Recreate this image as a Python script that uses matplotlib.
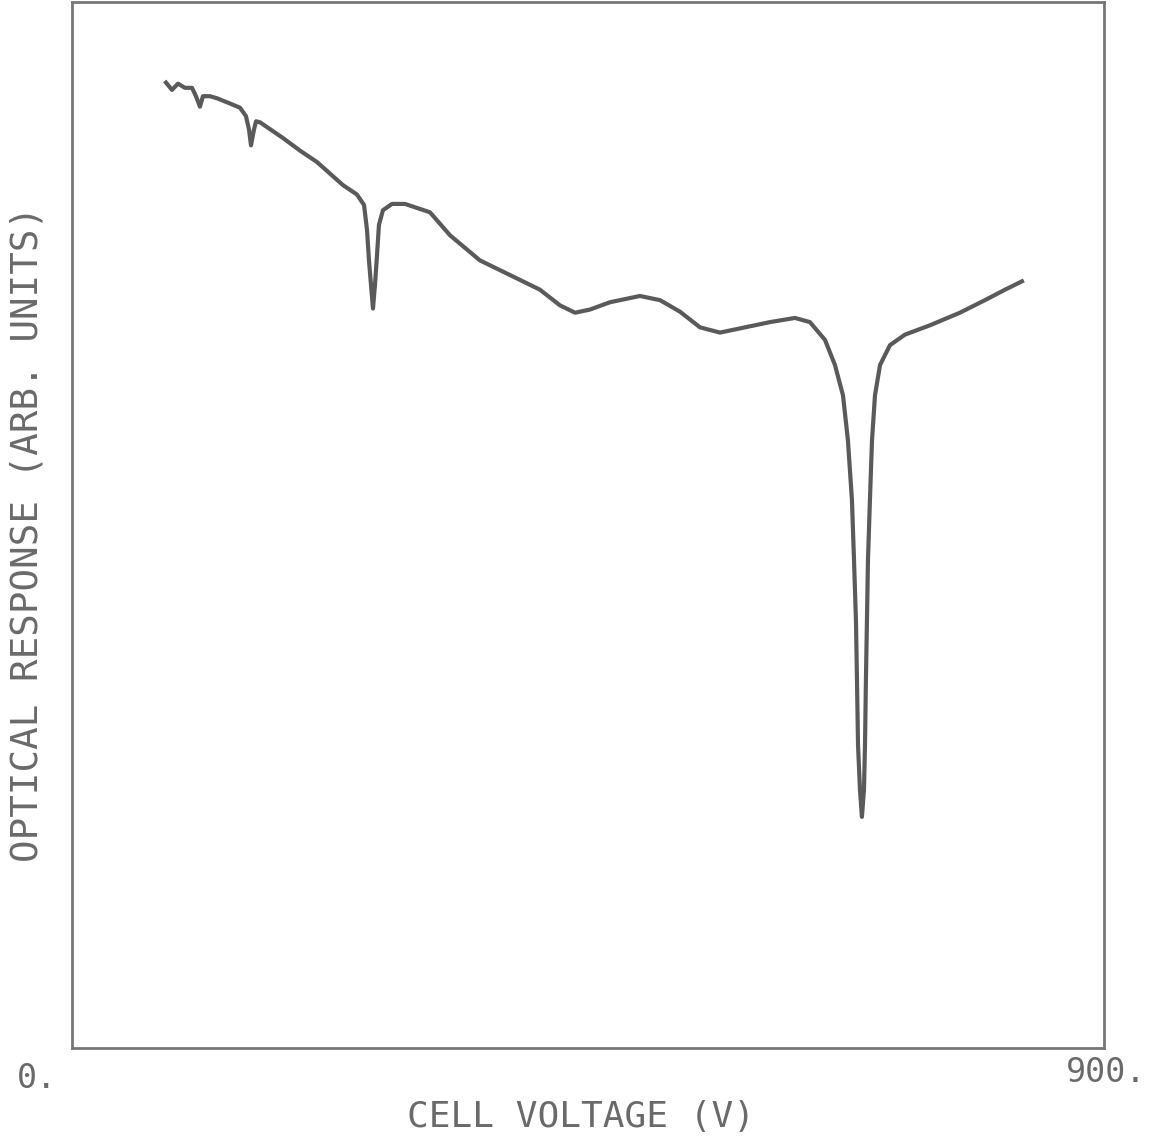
import matplotlib
matplotlib.use("Agg")
import matplotlib.pyplot as plt

# Cell voltage (V)
voltage = [82.0, 87.2, 92.4, 98.5, 104.7, 108.1, 111.6, 114.2, 120.3, 126.5,
           137.8, 146.5, 151.7, 154.4, 156.1, 158.7, 160.5, 164.0, 184.0, 198.8,
           213.7, 225.0, 236.3, 248.5, 254.7, 257.3, 259.0, 260.8, 262.5, 264.2,
           266.0, 267.7, 271.2, 279.1, 290.4, 312.2, 329.7, 355.8, 382.0, 408.1,
           425.6, 438.7, 451.7, 469.2, 495.3, 512.8, 530.2, 547.7, 565.1, 582.6,
           608.7, 630.5, 643.6, 656.7, 665.4, 672.4, 676.7, 680.2, 682.0, 683.7,
           684.6, 685.5, 687.2, 688.9, 690.7, 691.6, 692.4, 693.3, 694.2, 695.9,
           697.7, 700.3, 704.7, 713.4, 726.4, 748.3, 774.4, 796.2, 813.7, 828.5]

# Optical response (arbitrary units)
response = [92.3, 91.6, 92.2, 91.8, 91.8, 91.0, 90.0, 91.0, 91.0, 90.8,
            90.3, 89.9, 89.1, 87.8, 86.3, 87.8, 88.6, 88.5, 87.0, 85.8,
            84.7, 83.6, 82.5, 81.6, 80.6, 78.2, 75.3, 72.9, 70.7, 72.9,
            75.8, 78.7, 80.1, 80.7, 80.7, 79.9, 77.7, 75.3, 73.9, 72.5,
            71.0, 70.3, 70.6, 71.3, 71.9, 71.5, 70.4, 68.9, 68.4, 68.8,
            69.4, 69.8, 69.4, 67.7, 65.3, 62.4, 58.1, 52.4, 46.7, 40.9,
            35.2, 29.0, 24.7, 22.1, 24.7, 29.0, 35.2, 40.9, 46.7, 52.4,
            58.1, 62.4, 65.3, 67.2, 68.2, 69.1, 70.3, 71.5, 72.5, 73.3]

x_tick_labels = ["0.", "900."]
x_label = "CELL VOLTAGE (V)"
y_label = "OPTICAL RESPONSE (ARB. UNITS)"

FONT = "DejaVu Sans Mono"
TXT = "#6a6a6a"

fig = plt.figure(figsize=(11.52, 11.42), dpi=100)
ax = fig.add_axes([0.0625, 0.0823, 0.8958, 0.9159])
ax.plot(voltage, response, color="#5a5a5a", linewidth=3.0, solid_joinstyle="round")
ax.set_xlim(0, 900)
ax.set_ylim(0, 100)
ax.set_xticks([])
ax.set_yticks([])
for s in ax.spines.values():
    s.set_color("#777777")
    s.set_linewidth(2.0)

fig.text(17 / 1152, 1 - 1079 / 1142, x_tick_labels[0], ha="left", va="center",
         fontsize=24, family=FONT, color=TXT)
fig.text(1146 / 1152, 1 - 1073 / 1142, x_tick_labels[1], ha="right", va="center",
         fontsize=24, family=FONT, color=TXT)
fig.text(581 / 1152, 1 - 1117 / 1142, x_label, ha="center", va="center",
         fontsize=26, family=FONT, color=TXT)
fig.text(28 / 1152, 1 - 534 / 1142, y_label, ha="center", va="center",
         rotation=90, fontsize=27, family=FONT, color=TXT)

fig.savefig("out.png", dpi=100)
